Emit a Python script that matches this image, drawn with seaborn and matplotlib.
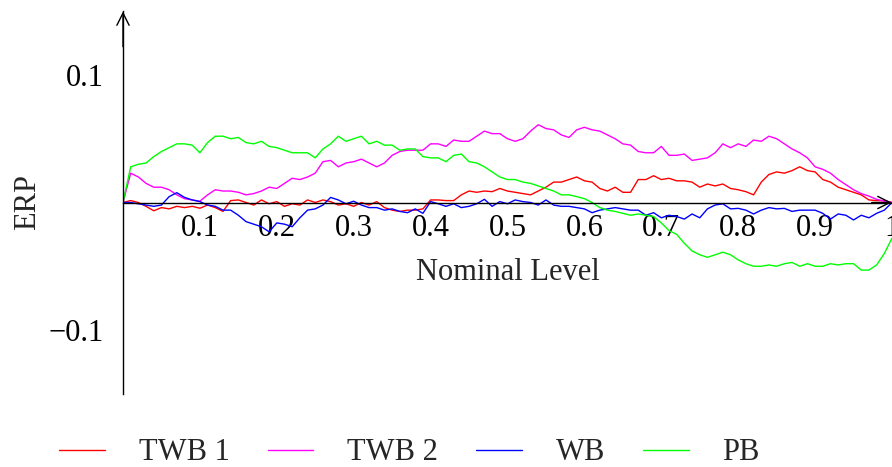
import numpy as np
import pandas as pd
import matplotlib
matplotlib.use("Agg")
import matplotlib.pyplot as plt
import seaborn as sns

# ---------------- data ----------------
nominal = np.round(np.linspace(0, 1, 101), 2)

twb1 = [0.0, 0.0015, 0.0, -0.003, -0.0065, -0.004, -0.005, -0.003, -0.004, -0.003,
        -0.0045, -0.002, -0.004, -0.007, 0.0015, 0.002, 0.0, -0.002, 0.002, -0.001,
        0.0007, -0.003, -0.001, -0.002, 0.002, 0.0, 0.002, 0.0007, -0.002, -0.001,
        -0.003, 0.0, -0.002, 0.0007, -0.004, -0.006, -0.007, -0.006, -0.006, -0.005,
        0.002, 0.002, 0.0015, 0.0015, 0.006, 0.009, 0.008, 0.009, 0.0085, 0.011,
        0.009, 0.008, 0.007, 0.006, 0.009, 0.012, 0.016, 0.016, 0.018, 0.020,
        0.017, 0.016, 0.011, 0.009, 0.012, 0.008, 0.008, 0.018, 0.018, 0.021,
        0.018, 0.019, 0.017, 0.017, 0.016, 0.012, 0.0145, 0.013, 0.0145, 0.011,
        0.010, 0.0085, 0.006, 0.016, 0.022, 0.024, 0.023, 0.025, 0.028, 0.025,
        0.024, 0.018, 0.016, 0.012, 0.010, 0.008, 0.006, 0.002, 0.0015, 0.0015,
        0.0]

twb2 = [0.0, 0.023, 0.020, 0.015, 0.012, 0.012, 0.010, 0.006, 0.003, 0.002,
        0.001, 0.006, 0.010, 0.009, 0.009, 0.008, 0.006, 0.007, 0.009, 0.012,
        0.011, 0.015, 0.019, 0.018, 0.020, 0.023, 0.032, 0.033, 0.028, 0.031,
        0.032, 0.034, 0.031, 0.028, 0.031, 0.037, 0.040, 0.041, 0.041, 0.041,
        0.046, 0.046, 0.044, 0.049, 0.048, 0.048, 0.052, 0.056, 0.054, 0.054,
        0.050, 0.048, 0.050, 0.056, 0.061, 0.058, 0.057, 0.053, 0.051, 0.057,
        0.059, 0.057, 0.056, 0.053, 0.050, 0.046, 0.045, 0.040, 0.039, 0.039,
        0.044, 0.037, 0.037, 0.038, 0.033, 0.034, 0.035, 0.039, 0.046, 0.043,
        0.046, 0.044, 0.049, 0.048, 0.052, 0.050, 0.046, 0.042, 0.039, 0.035,
        0.028, 0.026, 0.023, 0.018, 0.014, 0.010, 0.007, 0.005, 0.0025, 0.001,
        0.0]

wb = [0.0, 0.0, -0.001, -0.002, -0.003, -0.002, 0.0046, 0.0077, 0.004, 0.002,
      0.0007, -0.002, -0.003, -0.006, -0.006, -0.010, -0.015, -0.017, -0.019, -0.023,
      -0.016, -0.017, -0.019, -0.012, -0.006, -0.005, -0.002, 0.004, 0.002, -0.001,
      0.001, -0.002, -0.004, -0.004, -0.006, -0.005, -0.007, -0.008, -0.005, -0.0085,
      0.0007, -0.001, -0.003, -0.001, -0.004, -0.003, -0.001, 0.0025, -0.003, 0.0007,
      -0.001, 0.002, 0.0007, 0.0, -0.002, 0.002, -0.002, -0.003, -0.003, -0.004,
      -0.005, -0.008, -0.006, -0.005, -0.004, -0.005, -0.006, -0.006, -0.010, -0.008,
      -0.012, -0.010, -0.011, -0.013, -0.009, -0.012, -0.005, -0.002, -0.001, -0.005,
      -0.0046, -0.006, -0.009, -0.006, -0.004, -0.005, -0.0046, -0.007, -0.006, -0.006,
      -0.006, -0.0085, -0.013, -0.009, -0.010, -0.0137, -0.010, -0.012, -0.0085, -0.006,
      0.0]

pb = [0.0, 0.028, 0.030, 0.031, 0.036, 0.040, 0.043, 0.046, 0.046, 0.045,
      0.039, 0.047, 0.052, 0.052, 0.050, 0.051, 0.047, 0.046, 0.048, 0.044,
      0.043, 0.041, 0.039, 0.039, 0.039, 0.035, 0.042, 0.046, 0.052, 0.048,
      0.050, 0.052, 0.046, 0.048, 0.045, 0.045, 0.041, 0.042, 0.042, 0.036,
      0.035, 0.035, 0.032, 0.037, 0.038, 0.032, 0.031, 0.028, 0.024, 0.020,
      0.018, 0.018, 0.016, 0.015, 0.013, 0.011, 0.009, 0.006, 0.006, 0.0046,
      0.003, 0.0, -0.004, -0.006, -0.007, -0.0085, -0.010, -0.009, -0.010, -0.011,
      -0.016, -0.022, -0.025, -0.032, -0.038, -0.041, -0.043, -0.041, -0.039, -0.041,
      -0.045, -0.048, -0.050, -0.050, -0.049, -0.050, -0.048, -0.047, -0.050, -0.048,
      -0.050, -0.050, -0.048, -0.049, -0.048, -0.048, -0.053, -0.053, -0.049, -0.040,
      -0.028]

series_names = ["TWB 1", "TWB 2", "WB", "PB"]
series_colors = ["#ff0000", "#ff00ff", "#0000ff", "#00ff00"]
x_ticks = [0.1, 0.2, 0.3, 0.4, 0.5, 0.6, 0.7, 0.8, 0.9, 1.0]
x_tick_labels = ["0.1", "0.2", "0.3", "0.4", "0.5", "0.6", "0.7", "0.8", "0.9", "1"]
y_ticks = [-0.1, 0.1]
y_tick_labels = ["\u22120.1", "0.1"]

df = pd.concat([
    pd.DataFrame({"Nominal Level": nominal, "ERP": vals, "method": name})
    for name, vals in zip(series_names, [twb1, twb2, wb, pb])
], ignore_index=True)

# ---------------- style ----------------
sns.set_style("white")
plt.rcParams["font.family"] = ["Liberation Serif", "DejaVu Serif"]
plt.rcParams["font.size"] = 22

W, H = 892, 467
fig = plt.figure(figsize=(W / 100, H / 100), dpi=100)
ax = fig.add_axes([123 / W, (H - 393.75) / H, 769 / W, 382.5 / H])

sns.lineplot(data=df, x="Nominal Level", y="ERP", hue="method",
             hue_order=series_names, palette=dict(zip(series_names, series_colors)),
             estimator=None, sort=False, linewidth=1.0, ax=ax)

ax.set_xlim(0, 1)
ax.set_ylim(-0.15, 0.15)

# axis lines in the middle
for s in ["top", "right"]:
    ax.spines[s].set_visible(False)
ax.spines["left"].set_position(("data", 0))
ax.spines["bottom"].set_position(("data", 0))
for s in ["left", "bottom"]:
    ax.spines[s].set_color("black")
    ax.spines[s].set_linewidth(1.0)
    ax.spines[s].set_zorder(5)

ax.set_xticks(x_ticks)
ax.set_xticklabels(x_tick_labels)
ax.set_yticks(y_ticks)
ax.set_yticklabels(y_tick_labels)
ax.tick_params(axis="both", direction="inout", length=8, width=0.8,
               color="#888888", labelcolor="black", labelsize=22)
ax.tick_params(axis="x", pad=4)
ax.tick_params(axis="y", pad=10)

# arrows
ax.annotate("", xy=(0, 0.152), xytext=(0, 0.12),
            arrowprops=dict(arrowstyle="->", lw=1.0, color="black"),
            annotation_clip=False)
ax.annotate("", xy=(1.003, 0), xytext=(0.97, 0),
            arrowprops=dict(arrowstyle="->", lw=1.0, color="black"),
            annotation_clip=False)

ax.set_xlabel("Nominal Level", fontsize=22)
ax.xaxis.label.set_va("center")
ax.xaxis.set_label_coords(0.5, (393.75 - 273) / 382.5)
ax.set_ylabel("ERP", fontsize=22)
ax.yaxis.label.set_va("center")
ax.yaxis.set_label_coords((28 - 123) / 769, 0.5)

handles, labels = ax.get_legend_handles_labels()
ax.get_legend().remove()
fig.legend(handles, labels, loc="center", bbox_to_anchor=(409.5 / W, 1 - 453 / H),
           ncol=4, frameon=False, fontsize=22, handlelength=1.5,
           handletextpad=1.1, columnspacing=1.25)

fig.savefig("out.png", dpi=100)
